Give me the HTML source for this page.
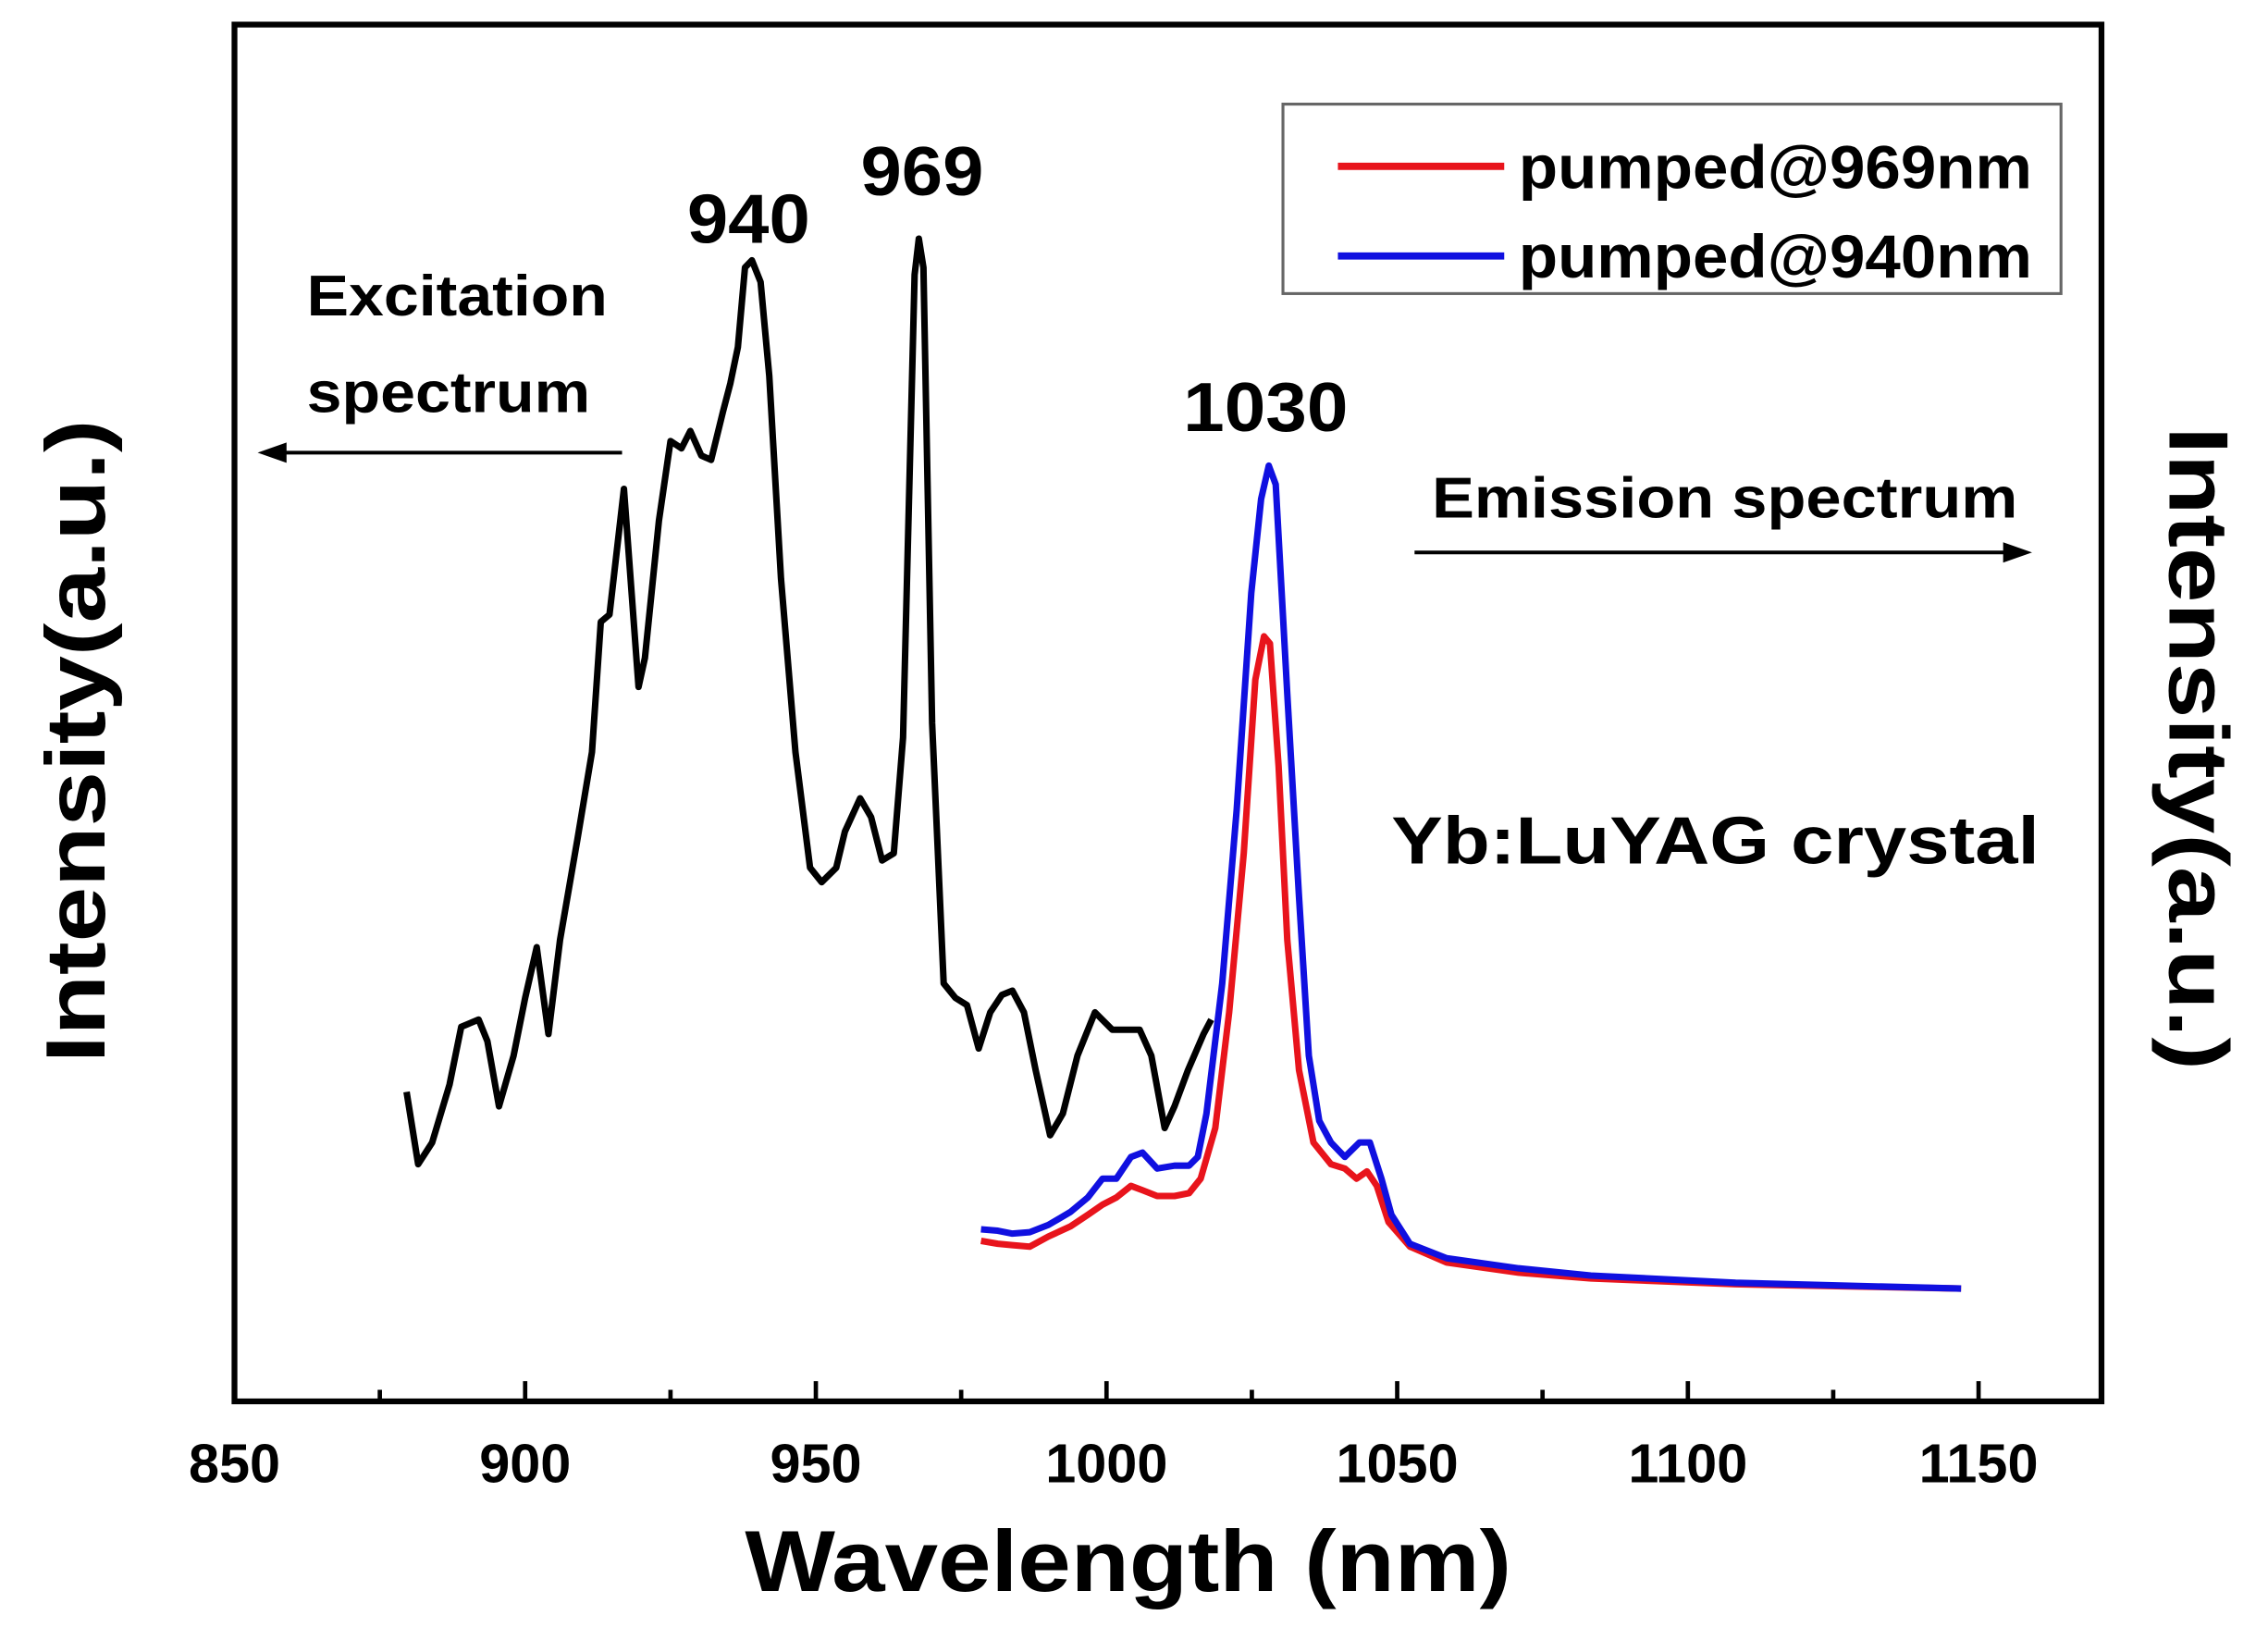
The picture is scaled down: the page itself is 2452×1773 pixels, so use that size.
<!DOCTYPE html>
<html><head><meta charset="utf-8"><style>
html,body{margin:0;padding:0;background:#fff;}
svg{display:block;font-family:"Liberation Sans",Arial,sans-serif;font-weight:bold;}
</style></head><body>
<svg id="chart" width="2452" height="1773" viewBox="0 0 1568 1134" xmlns="http://www.w3.org/2000/svg">
<rect width="1568" height="1134" fill="#fff"/>
<g id="axes"></g>
<g id="series"></g>
<text x="515" y="1100" font-size="60" textLength="530" lengthAdjust="spacingAndGlyphs">Wavelength (nm)</text>
<text transform="translate(72,735) rotate(-90)" font-size="58" textLength="445" lengthAdjust="spacingAndGlyphs">Intensity(a.u.)</text>
<text transform="translate(1500,295) rotate(90)" font-size="58" textLength="445" lengthAdjust="spacingAndGlyphs">Intensity(a.u.)</text>
<text x="475" y="168" font-size="48" textLength="85" lengthAdjust="spacingAndGlyphs">940</text>
<text x="595" y="135" font-size="48" textLength="85" lengthAdjust="spacingAndGlyphs">969</text>
<text x="818" y="298" font-size="48" textLength="114" lengthAdjust="spacingAndGlyphs">1030</text>
<text x="212" y="218" font-size="40" textLength="208" lengthAdjust="spacingAndGlyphs">Excitation</text>
<text x="212" y="285" font-size="40" textLength="196" lengthAdjust="spacingAndGlyphs">spectrum</text>
<g stroke="#000" stroke-width="2.5" fill="#000">
<line x1="430" y1="313" x2="195" y2="313"/><polygon points="178,313 198,306 198,320" stroke="none"/></g>
<text x="990" y="358" font-size="40" textLength="405" lengthAdjust="spacingAndGlyphs">Emission spectrum</text>
<g stroke="#000" stroke-width="2.5" fill="#000">
<line x1="978" y1="382" x2="1388" y2="382"/><polygon points="1405,382 1385,375 1385,389" stroke="none"/></g>
<text x="962" y="597" font-size="46" textLength="448" lengthAdjust="spacingAndGlyphs">Yb:LuYAG crystal</text>
<g>
<rect x="887" y="72" width="538" height="131" fill="#fff" stroke="#666" stroke-width="2"/>
<line x1="925" y1="115" x2="1040" y2="115" stroke="#e8141c" stroke-width="5"/>
<text x="1050" y="130" font-size="42" textLength="355" lengthAdjust="spacingAndGlyphs">pumped@969nm</text>
<line x1="925" y1="177" x2="1040" y2="177" stroke="#1010e0" stroke-width="5"/>
<text x="1050" y="192" font-size="42" textLength="355" lengthAdjust="spacingAndGlyphs">pumped@940nm</text>
</g>
<script>
const xTicks=[850,900,950,1000,1050,1100,1150];
const excWl=[879.6,881.6,884,887,889,892,893.5,895.5,898,900,902,904,906,909,911.5,913,914.5,917,919.5,920.6,923,925,926.9,928.4,930.3,932,934,935.3,936.6,937.8,939,940.5,942,944,946.5,949,951,953.5,955,957.6,959.5,961.4,963.4,965,967,967.7,968.5,970,972,974,976,978,980,982,983.8,985.8,987.8,990.3,992.5,995,998,1001,1004,1005.7,1007.7,1010,1011.7,1014,1016.7,1018];
const excVal=[214,164,179,219,259,264,249,204,239,279,314,254,319,389,449,539,544,631,494,514,609,664,659,671,654,651,684,704,729,784,789,774,709,569,449,369,359,369,394,417,404,374,379,459,779,804,784,469,289,279,274,244,269,281,284,269,229,184,199,239,269,257,257,257,239,189,204,229,254,264];
const emWl=[978.4,981.3,983.8,986.8,990.0,993.8,996.8,999.3,1001.7,1004.2,1006.2,1008.7,1011.7,1014.2,1016.2,1018.7,1021.1,1023.6,1025.6,1027.1,1028.1,1029.6,1031.1,1033.1,1035.6,1038.6,1041.0,1043.0,1044.8,1046.5,1048.5,1052.2,1058.5,1070.9,1083.3,1108.2,1147.0];
const red969=[111,109,108,107,114,121,129,136,141,149,146,142,142,144,154,189,269,379,499,529,524,439,319,229,179,164,161,154,159,149,124,107,96,89,85,81,78];
const blueWl=[978.4,981.3,983.8,986.8,990.0,993.8,996.8,999.3,1001.7,1004.2,1006.2,1008.7,1011.7,1014.2,1015.7,1017.2,1019.9,1022.4,1024.9,1026.6,1027.9,1029.1,1031.1,1033.1,1034.8,1036.6,1038.6,1041.0,1043.5,1045.3,1047.3,1049.0,1052.2,1058.5,1070.9,1083.3,1108.2,1147.0];
const blue940=[119,118,116,117,122,131,141,154,154,169,172,161,163,163,169,199,289,409,559,624,647,634,489,349,239,194,179,169,179,179,154,129,109,99,92,87,82,78];
const L=162,R=1453,T=17,B=969;
function xs(w){return L+(w-850)*4.02;}
function ys(v){return B-v;}
const NS='http://www.w3.org/2000/svg';
const ax=document.getElementById('axes');
const frame=document.createElementNS(NS,'rect');
frame.setAttribute('x',L);frame.setAttribute('y',T);frame.setAttribute('width',R-L);frame.setAttribute('height',B-T);
frame.setAttribute('fill','none');frame.setAttribute('stroke','#000');frame.setAttribute('stroke-width','4');


ax.appendChild(frame);
for(let w=875;w<=1175;w+=50){
  if(xs(w)>=R)break;
  const t=document.createElementNS(NS,'line');
  t.setAttribute('x1',xs(w));t.setAttribute('x2',xs(w));t.setAttribute('y1',B);t.setAttribute('y2',B-8);
  t.setAttribute('stroke','#000');t.setAttribute('stroke-width','3');
  
  
  ax.appendChild(t);
}
xTicks.forEach(w=>{
  const t=document.createElementNS(NS,'line');
  t.setAttribute('x1',xs(w));t.setAttribute('x2',xs(w));t.setAttribute('y1',B);t.setAttribute('y2',B-14);
  t.setAttribute('stroke','#000');t.setAttribute('stroke-width','3');
  
  
  ax.appendChild(t);
  const lb=document.createElementNS(NS,'text');
  lb.setAttribute('x',xs(w));lb.setAttribute('y',1025);lb.setAttribute('font-size','38');lb.setAttribute('text-anchor','middle');
  lb.textContent=w;
  
  
  ax.appendChild(lb);
});
const sg=document.getElementById('series');
function line(wl,vals,color,name){
  const p=document.createElementNS(NS,'path');
  p.setAttribute('d',wl.map((w,i)=>(i?'L':'M')+xs(w).toFixed(1)+','+ys(vals[i]).toFixed(1)).join(''));
  p.setAttribute('fill','none');p.setAttribute('stroke',color);p.setAttribute('stroke-width','4.5');p.setAttribute('stroke-linejoin','round');
  
  
  sg.appendChild(p);
}
line(excWl,excVal,'#000','excitation-line');
line(emWl,red969,'#e8141c','emission-969-line');
line(blueWl,blue940,'#1010e0','emission-940-line');
</script>
</svg>
</body></html>
